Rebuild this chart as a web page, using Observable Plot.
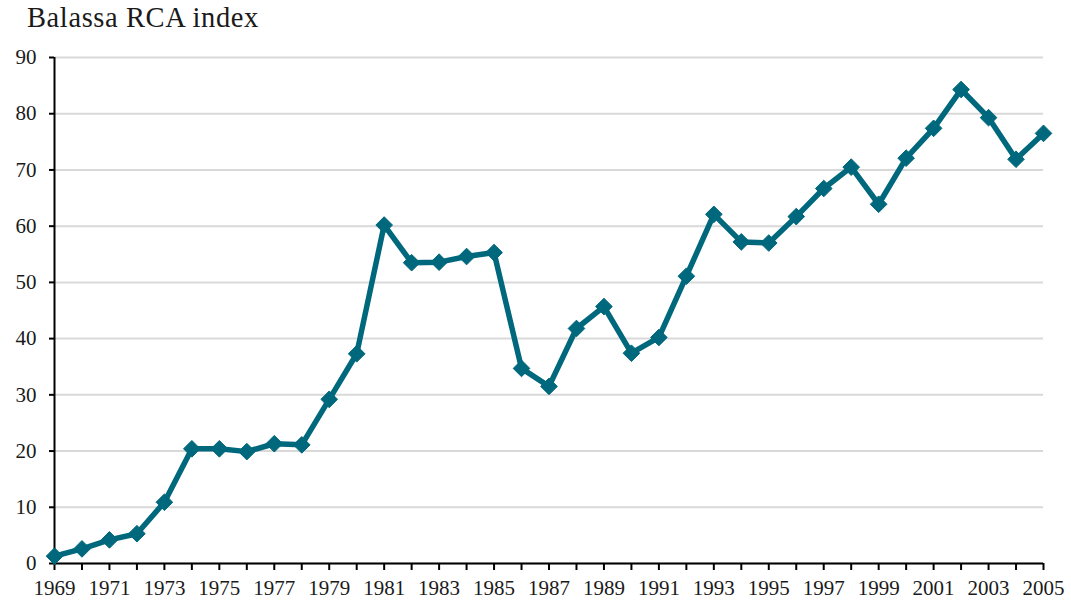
<!DOCTYPE html>
<html>
<head>
<meta charset="utf-8">
<script src="https://cdn.jsdelivr.net/npm/d3@7"></script>
<script src="https://cdn.jsdelivr.net/npm/@observablehq/plot@0.6"></script>
<style>
  html, body { margin: 0; padding: 0; background: #fff; }
  #wrap { position: relative; width: 1071px; height: 603px; font-family: "Liberation Serif", "Times New Roman", serif; }
  #title { position: absolute; left: 27px; top: 2px; font-size: 28.5px; letter-spacing: 0.6px; color: #1a1a1a; }
  #chart svg text { font-family: "Liberation Serif", "Times New Roman", serif !important; }
</style>
</head>
<body>
<div id="wrap">
  <div id="title">Balassa RCA index</div>
  <div id="chart"></div>
</div>
<script>
const years = [1969,1970,1971,1972,1973,1974,1975,1976,1977,1978,1979,1980,1981,1982,1983,1984,1985,1986,1987,1988,1989,1990,1991,1992,1993,1994,1995,1996,1997,1998,1999,2000,2001,2002,2003,2004,2005];
const rca = [1.3,2.6,4.2,5.3,10.9,20.4,20.4,19.9,21.3,21.1,29.2,37.3,60.2,53.5,53.6,54.6,55.3,34.7,31.5,41.8,45.7,37.4,40.2,51.1,62.1,57.2,57.0,61.7,66.7,70.5,63.9,72.1,77.4,84.3,79.3,71.9,76.5];
const yTicks = [0,10,20,30,40,50,60,70,80,90];

const data = years.map((y, i) => ({year: y, value: rca[i]}));
const color = "#00687c";
const serif = "Liberation Serif, Times New Roman, serif";

const chart = Plot.plot({
  width: 1071,
  height: 603,
  marginLeft: 54,
  marginRight: 28,
  marginTop: 57,
  marginBottom: 40,
  style: {fontFamily: serif, fontSize: "21px", color: "#1a1a1a", background: "#fff"},
  x: {domain: [1969, 2005]},
  y: {domain: [0, 90]},
  marks: [
    Plot.gridY(yTicks, {stroke: "#d9d9d9", strokeOpacity: 1, strokeWidth: 2}),
    Plot.axisY(yTicks, {tickSize: 5, tickPadding: 13, stroke: "#000", strokeWidth: 2, fontSize: 21, fontFamily: serif, label: null}),
    Plot.axisX(years, {tickSize: 7, tickPadding: 10, stroke: "#000", strokeWidth: 2, fontSize: 21, fontFamily: serif, label: null,
      tickFormat: d => ((d - 1969) % 2 === 0 ? String(d) : "")}),
    Plot.ruleX([1969], {stroke: "#000", strokeWidth: 2}),
    Plot.ruleY([0], {stroke: "#000", strokeWidth: 2}),
    Plot.line(data, {x: "year", y: "value", stroke: color, strokeWidth: 5.5, strokeLinejoin: "miter"}),
    Plot.dot(data, {x: "year", y: "value", symbol: "diamond2", r: 7.5, fill: color, stroke: color, strokeWidth: 1})
  ]
});
document.getElementById("chart").appendChild(chart);
</script>
</body>
</html>
